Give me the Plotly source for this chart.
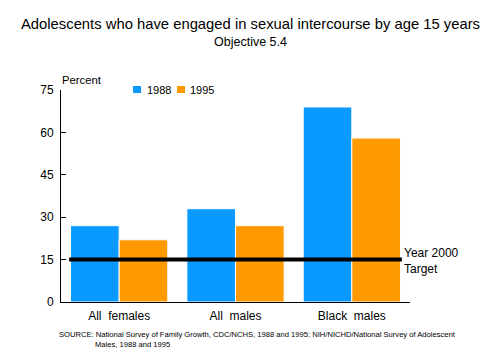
import plotly.graph_objects as go

categories = ["All\u00a0\u00a0females", "All\u00a0\u00a0males", "Black\u00a0\u00a0males"]
series_names = ["1988", "1995"]
values_1988 = [27, 33, 69]
values_1995 = [22, 27, 58]
target = 15
y_ticks = [0, 15, 30, 45, 60, 75]

FONT = "Liberation Sans, Arial, Helvetica, sans-serif"
BLUE = "#0A99FF"
ORANGE = "#FF9900"
colors = [BLUE, ORANGE]

L, R, T, B = 61, 90, 90, 62
PW, PH = 500 - L - R, 364 - T - B


def px(x):
    return (x - L) / PW


def py(y):
    return (364 - B - y) / PH


fig = go.Figure()
for name, vals, col in zip(series_names, [values_1988, values_1995], colors):
    fig.add_trace(go.Bar(x=categories, y=vals, name=name, hoverinfo="skip",
                         marker=dict(color=col, line=dict(color="white", width=1))))

# Target line
fig.add_shape(type="line", xref="x", yref="y", x0=-0.43, x1=2.43, y0=target, y1=target,
              line=dict(color="black", width=4))

fig.update_layout(
    width=500, height=364,
    margin=dict(l=L, r=R, t=T, b=B),
    paper_bgcolor="white", plot_bgcolor="white",
    font=dict(family=FONT, size=12, color="black"),
    barmode="group", bargap=0.164, bargroupgap=0.0,
    showlegend=False,
    xaxis=dict(range=[-0.5, 2.5], showline=True, linecolor="black", linewidth=1,
               ticks="", showgrid=False, tickfont=dict(size=12),
               ticklabelstandoff=3),
    yaxis=dict(range=[0, 75], tickvals=y_ticks, showline=True, linecolor="black",
               linewidth=1, ticks="inside", ticklen=5, tickcolor="black",
               showgrid=False, zeroline=False, tickfont=dict(size=12),
               ticklabelstandoff=4),
)

# Legend drawn manually
legend_items = [(133, 145), (177, 188)]
for (sx, tx), name, col in zip(legend_items, series_names, colors):
    fig.add_shape(type="rect", xref="paper", yref="paper",
                  x0=px(sx), x1=px(sx + 8), y0=py(93), y1=py(86),
                  fillcolor=col, line=dict(width=0))
    fig.add_annotation(text=name, xref="paper", yref="paper", x=px(tx), y=py(90),
                       showarrow=False, font=dict(size=11), xanchor="left",
                       yanchor="middle")

fig.add_annotation(text="Adolescents who have engaged in sexual intercourse by age 15 years",
                   xref="paper", yref="paper", x=px(250), y=py(24),
                   showarrow=False, font=dict(size=14.8), xanchor="center", yanchor="middle")
fig.add_annotation(text="Objective 5.4",
                   xref="paper", yref="paper", x=px(250), y=py(42),
                   showarrow=False, font=dict(size=12.5), xanchor="center", yanchor="middle")
fig.add_annotation(text="Percent", xref="paper", yref="paper", x=px(60),
                   y=py(80), showarrow=False, font=dict(size=11.3),
                   xanchor="left", yanchor="middle")
fig.add_annotation(text="Year 2000<br>Target", xref="paper", yref="y", x=px(402),
                   y=target, showarrow=False, font=dict(size=12), xanchor="left",
                   yanchor="middle", align="left", yshift=-1)
fig.add_annotation(text="SOURCE: National Survey of Family Growth, CDC/NCHS, 1988 and 1995; NIH/NICHD/National Survey of Adolescent",
                   xref="paper", yref="paper", x=px(57), y=py(334),
                   showarrow=False, font=dict(size=7.6), xanchor="left", yanchor="middle")
fig.add_annotation(text="Males, 1988 and 1995",
                   xref="paper", yref="paper", x=px(93), y=py(344),
                   showarrow=False, font=dict(size=7.6), xanchor="left", yanchor="middle")

fig.write_html("out.html", config={"displayModeBar": False},
               post_script="document.body.style.margin='0';")
